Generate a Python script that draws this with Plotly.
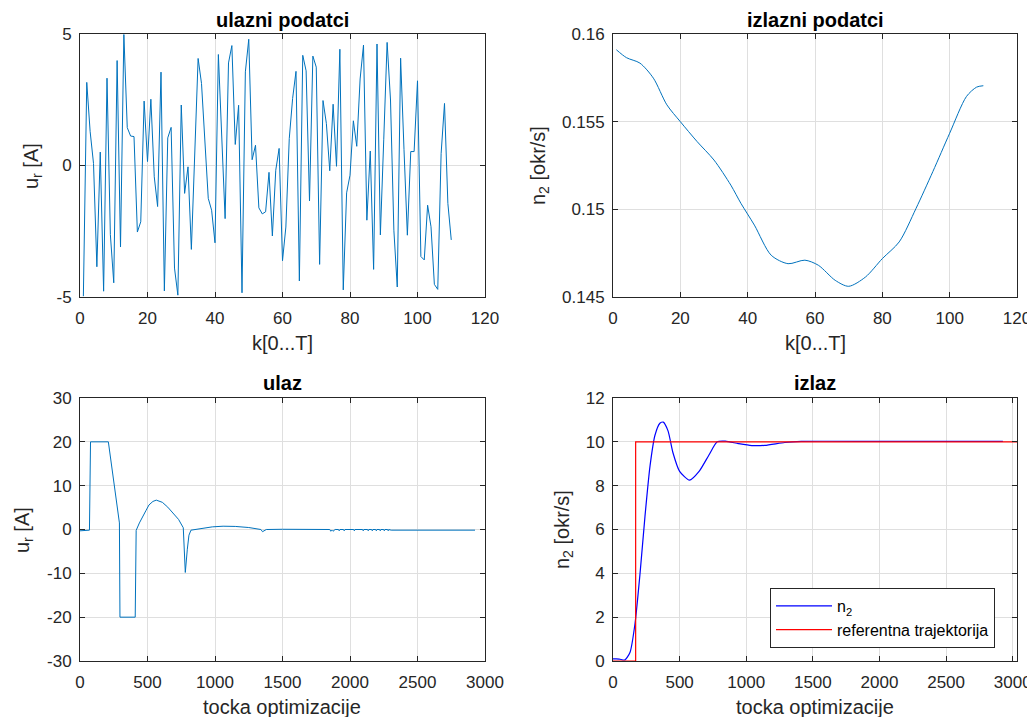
import plotly.graph_objects as go

# ---------------- data ----------------
# top-left: ulazni podatci (random input sequence, k = 1..110)
k_in = list(range(1, 111))
u_in = [-4.97, 3.16, 1.3, 0.08, -3.85, 0.51, -4.78, 3.32, -2.63, -4.46,
        3.99, -3.1, 4.98, 1.44, 1.12, 1.1, -2.53, -2.14, 2.45, 0.15,
        2.52, -0.43, -1.56, 3.55, -4.77, 1.05, 1.45, -3.9, -4.93, 2.3,
        -1.06, -0.05, -3.19, 0.4, 4.07, 3.12, 0.96, -1.25, -1.7, -2.94,
        4.22, 1.22, -2.02, 3.9, 4.56, 0.8, 2.29, -4.84, 3.56, 4.8,
        0.22, 0.77, -1.61, -1.84, -1.76, -0.26, -2.68, -0.18, 0.65, -3.62,
        -2.34, 1.02, 2.55, 3.58, -4.39, 4.19, 3.6, -1.35, 4.16, 3.74,
        -3.76, 2.47, 1.6, -0.2, 2.33, -0.03, 4.42, -4.73, -1.04, -0.37,
        1.7, 0.73, 3.29, 4.58, -2.08, 0.55, -3.95, 4.62, -2.64, 1.0,
        4.68, 2.49, -2.46, -4.62, 4.08, 0.6, -2.65, 0.53, 0.53, 3.22,
        -3.46, -3.59, -1.51, -2.33, -4.52, -4.71, 0.45, 2.36, -1.44, -2.83]

# top-right: izlazni podatci (measured output, sampled along k)
k_out = [1, 4, 8, 12, 16, 20, 25, 30, 35, 38, 42, 47, 52, 57, 61, 66, 70,
         75, 80, 85, 90, 95, 100, 105, 108, 110]
n_out = [0.1591, 0.15865, 0.15834, 0.15748, 0.15596, 0.1550, 0.15386,
         0.15281, 0.15138, 0.15034, 0.1491, 0.14738, 0.1469, 0.1471,
         0.14681, 0.14595, 0.14561, 0.14614, 0.14719, 0.14814, 0.15005,
         0.15215, 0.15434, 0.15644, 0.15697, 0.15705]

# bottom-left: ulaz (optimised input)
t_u = [0, 70, 78, 210, 292, 296, 409, 416, 440, 462, 490, 511, 540, 565,
       590, 610, 650, 684, 730, 765, 780, 795, 807, 822, 900, 980, 1060,
       1150, 1250, 1315, 1340, 1352, 1365, 1380, 1500, 1700, 1850, 1858,
       1866, 1874, 1882, 1890, 1915, 1920, 1925, 1952, 1957, 1962, 2028,
       2032, 2036, 2094, 2098, 2102, 2131, 2135, 2139, 2161, 2165, 2169,
       2191, 2195, 2199, 2220, 2224, 2228, 2250, 2254, 2258, 2279, 2283,
       2287, 2305, 2600, 2926]
u_opt = [-0.3, -0.15, 20, 20, 1.5, -20, -20, -0.2, 1.5, 2.9, 4.4, 5.6, 6.4,
         6.7, 6.5, 6.2, 5.1, 4.0, 2.3, 0.4, -9.8, -4.5, -1.3, -0.15, 0.2,
         0.6, 0.75, 0.7, 0.45, 0.2, 0.0, -0.5, -0.2, 0.0, 0.05, 0.0, 0.0,
         -0.4, -0.15, -0.4, -0.2, 0.0, 0.0, -0.3, 0.0, 0.0, -0.3, 0.0, 0.0,
         -0.3, 0.0, 0.0, -0.3, 0.0, 0.0, -0.3, 0.0, 0.0, -0.3, 0.0, 0.0,
         -0.3, 0.0, 0.0, -0.3, 0.0, 0.0, -0.3, 0.0, 0.0, -0.3, 0.0, -0.15,
         -0.15, -0.15]

# bottom-right: izlaz (n2 response and reference trajectory)
t_n = [0, 25, 52, 90, 128, 165, 203, 240, 278, 315, 352, 377, 413, 450,
       500, 574, 646, 720, 782, 843, 940, 1041, 1140, 1289, 1413, 2000, 2926]
n2 = [0.1, 0.1, 0.08, 0.05, 0.4, 1.7, 4.0, 6.6, 8.9, 10.3, 10.85, 10.9,
      10.5, 9.5, 8.65, 8.25, 8.65, 9.4, 10.0, 10.03, 9.92, 9.83, 9.84,
      9.97, 10.02, 10.02, 10.02]
t_ref = [0, 170, 170, 3032]
n_ref = [0, 0, 10, 10]

# tick labels
ticks_tl = [-5, 0, 5]
ticks_tr = [0.145, 0.15, 0.155, 0.16]
ticks_tr_txt = ["0.145", "0.15", "0.155", "0.16"]
ticks_bl = [-30, -20, -10, 0, 10, 20, 30]
ticks_br = [0, 2, 4, 6, 8, 10, 12]
ticks_k = [0, 20, 40, 60, 80, 100, 120]
ticks_t = [0, 500, 1000, 1500, 2000, 2500, 3000]

# ---------------- figure ----------------
OFF = 8                    # page body margin of the html page
W, H = 1035 - OFF, 717 - OFF
BLUE = "#0072BD"
TXT = "#262626"
FONT = "Liberation Sans, Arial, Helvetica, sans-serif"

def px_x(p):
    return (p - OFF) / W

def px_y(p):
    return 1 - (p - OFF) / H

dom_x = {"L": [px_x(80), px_x(485)], "R": [px_x(613), px_x(1017)]}
dom_y = {"T": [px_y(297), px_y(34)], "B": [px_y(661), px_y(398)]}

fig = go.Figure()

fig.add_trace(go.Scatter(x=k_in, y=u_in, mode="lines", line=dict(color=BLUE, width=1),
                         xaxis="x", yaxis="y", showlegend=False))
fig.add_trace(go.Scatter(x=k_out, y=n_out, mode="lines",
                         line=dict(color=BLUE, width=1, shape="spline", smoothing=0.8),
                         xaxis="x2", yaxis="y2", showlegend=False))
fig.add_trace(go.Scatter(x=t_u, y=u_opt, mode="lines", line=dict(color=BLUE, width=1),
                         xaxis="x3", yaxis="y3", showlegend=False))
fig.add_trace(go.Scatter(x=t_n, y=n2, mode="lines", name="n<sub>2</sub>",
                         line=dict(color="#0000FF", width=1.2, shape="spline", smoothing=0.6),
                         xaxis="x4", yaxis="y4"))
fig.add_trace(go.Scatter(x=t_ref, y=n_ref, mode="lines", name="referentna trajektorija",
                         line=dict(color="#FF0000", width=1.2),
                         xaxis="x4", yaxis="y4"))

def lab(v):
    return [str(t) for t in v]

def axis(domain, anchor, rng, tv, tt, standoff):
    return dict(domain=domain, anchor=anchor, range=rng, showgrid=True,
                gridcolor="#dfdfdf", gridwidth=1, zeroline=False, showline=True,
                linecolor=TXT, linewidth=1, mirror="allticks", ticks="inside",
                ticklen=5, tickcolor=TXT, tickwidth=1, automargin=False,
                tickvals=tv, ticktext=tt, ticklabelstandoff=standoff,
                ticklabeloverflow="allow",
                tickfont=dict(size=17, color=TXT, family=FONT))

fig.update_layout(
    xaxis=axis(dom_x["L"], "y", [0, 120], ticks_k, lab(ticks_k), 6),
    yaxis=axis(dom_y["T"], "x", [-5, 5], ticks_tl, lab(ticks_tl), 4),
    xaxis2=axis(dom_x["R"], "y2", [0, 120], ticks_k, lab(ticks_k), 6),
    yaxis2=axis(dom_y["T"], "x2", [0.145, 0.16], ticks_tr, ticks_tr_txt, 4),
    xaxis3=axis(dom_x["L"], "y3", [0, 3000], ticks_t, lab(ticks_t), 6),
    yaxis3=axis(dom_y["B"], "x3", [-30, 30], ticks_bl, lab(ticks_bl), 4),
    xaxis4=axis(dom_x["R"], "y4", [0, 3032], ticks_t, lab(ticks_t), 6),
    yaxis4=axis(dom_y["B"], "x4", [0, 12], ticks_br, lab(ticks_br), 4),
)

annots = []
def text(x, y, s, size=20, angle=0, color=TXT):
    annots.append(dict(x=px_x(x), y=px_y(y), xref="paper", yref="paper", text=s,
                       showarrow=False, xanchor="center", yanchor="middle", textangle=angle,
                       font=dict(size=size, color=color, family=FONT)))

# titles
text(282, 20, "<b>ulazni podatci</b>", 20, color="#000000")
text(815, 20, "<b>izlazni podatci</b>", 20, color="#000000")
text(282, 383, "<b>ulaz</b>", 20, color="#000000")
text(815, 383, "<b>izlaz</b>", 20, color="#000000")
# x labels
text(282, 343, "k[0...T]")
text(815, 343, "k[0...T]")
text(282, 707, "tocka optimizacije")
text(815, 707, "tocka optimizacije")
# y labels
text(32, 166, "u<sub>r</sub> [A]", angle=-90)
text(539, 166, "n<sub>2</sub> [okr/s]", angle=-90)
text(23, 530, "u<sub>r</sub> [A]", angle=-90)
text(563, 530, "n<sub>2</sub> [okr/s]", angle=-90)

fig.update_layout(
    annotations=annots,
    width=W, height=H,
    margin=dict(l=0, r=0, t=0, b=0, autoexpand=False),
    paper_bgcolor="white", plot_bgcolor="white",
    font=dict(family=FONT, color=TXT),
    legend=dict(x=px_x(770), y=px_y(588), xanchor="left", yanchor="top",
                bgcolor="white", bordercolor=TXT, borderwidth=1,
                font=dict(size=16, color="#000000", family=FONT),
                tracegroupgap=0, itemwidth=56),
)

fig.write_html("out.html")
